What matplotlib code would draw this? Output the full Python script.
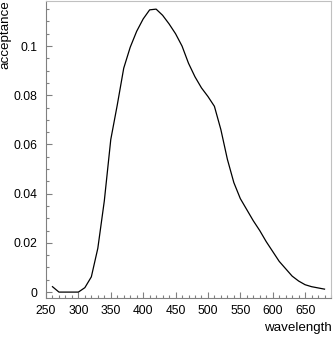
#!/usr/bin/env python3
# coding=utf-8

import numpy as np
import matplotlib
matplotlib.use('Agg')
import matplotlib.pyplot as plt
from matplotlib.ticker import MultipleLocator, FormatStrFormatter

plt.rcParams['font.family'] = ['Liberation Sans', 'DejaVu Sans']

# acceptance curve (10 nm steps)
wavelength = [260, 270, 280, 290, 300, 310, 320, 330, 340, 350,
              360, 370, 380, 390, 400, 410, 420, 430, 440, 450,
              460, 470, 480, 490, 500, 510, 520, 530, 540, 550,
              560, 570, 580, 590, 600, 610, 620, 630, 640, 650,
              660, 670, 680]
acceptance = [0.0022, 0.0, 0.0, 0.0, 0.0, 0.0018, 0.0062, 0.0178, 0.037, 0.062,
              0.076, 0.091, 0.0995, 0.106, 0.111, 0.1147, 0.115, 0.1125, 0.109, 0.105,
              0.1, 0.093, 0.0875, 0.083, 0.0795, 0.0755, 0.066, 0.054, 0.0445, 0.038,
              0.0335, 0.029, 0.025, 0.0205, 0.0165, 0.0125, 0.0095, 0.0065, 0.0045, 0.003,
              0.0022, 0.0017, 0.0012]

fig = plt.figure(figsize=(3.33, 3.37), dpi=100)
ax = fig.add_axes([46/333, 1 - 298/337, 285/333, 297/337])

ax.plot(wavelength, acceptance, color='black', lw=0.9)

ax.set_xlim(250, 690)
ax.set_ylim(-0.0024, 0.1183)

ax.xaxis.set_major_locator(MultipleLocator(50))
ax.xaxis.set_minor_locator(MultipleLocator(10))
ax.xaxis.set_major_formatter(FormatStrFormatter('%d'))
ax.yaxis.set_major_locator(MultipleLocator(0.02))
ax.yaxis.set_minor_locator(MultipleLocator(0.005))
ax.yaxis.set_major_formatter(matplotlib.ticker.FuncFormatter(
    lambda v, p: '0' if abs(v) < 1e-9 else ('%.2f' % v).rstrip('0')))

axis_col = '#808080'
for side in ['left', 'bottom']:
    ax.spines[side].set_color(axis_col)
    ax.spines[side].set_linewidth(0.8)
for side in ['top', 'right']:
    ax.spines[side].set_color('#c0c0c0')
    ax.spines[side].set_linewidth(0.8)

ax.tick_params(which='both', direction='in', colors=axis_col, labelcolor='black',
               labelsize=8.7, top=False, right=False, width=0.8)
ax.tick_params(which='major', length=4)
ax.tick_params(which='minor', length=2)
ax.tick_params(axis='y', pad=6)
ax.tick_params(axis='x', pad=5)

fig.text(332/333, 1 - 328/337, 'wavelength', ha='right', va='center', fontsize=9.6)
fig.text(5/333, 1 - 0.5/337, 'acceptance', ha='center', va='top', rotation=90, fontsize=9.6)

fig.savefig('out.png', dpi=100)
